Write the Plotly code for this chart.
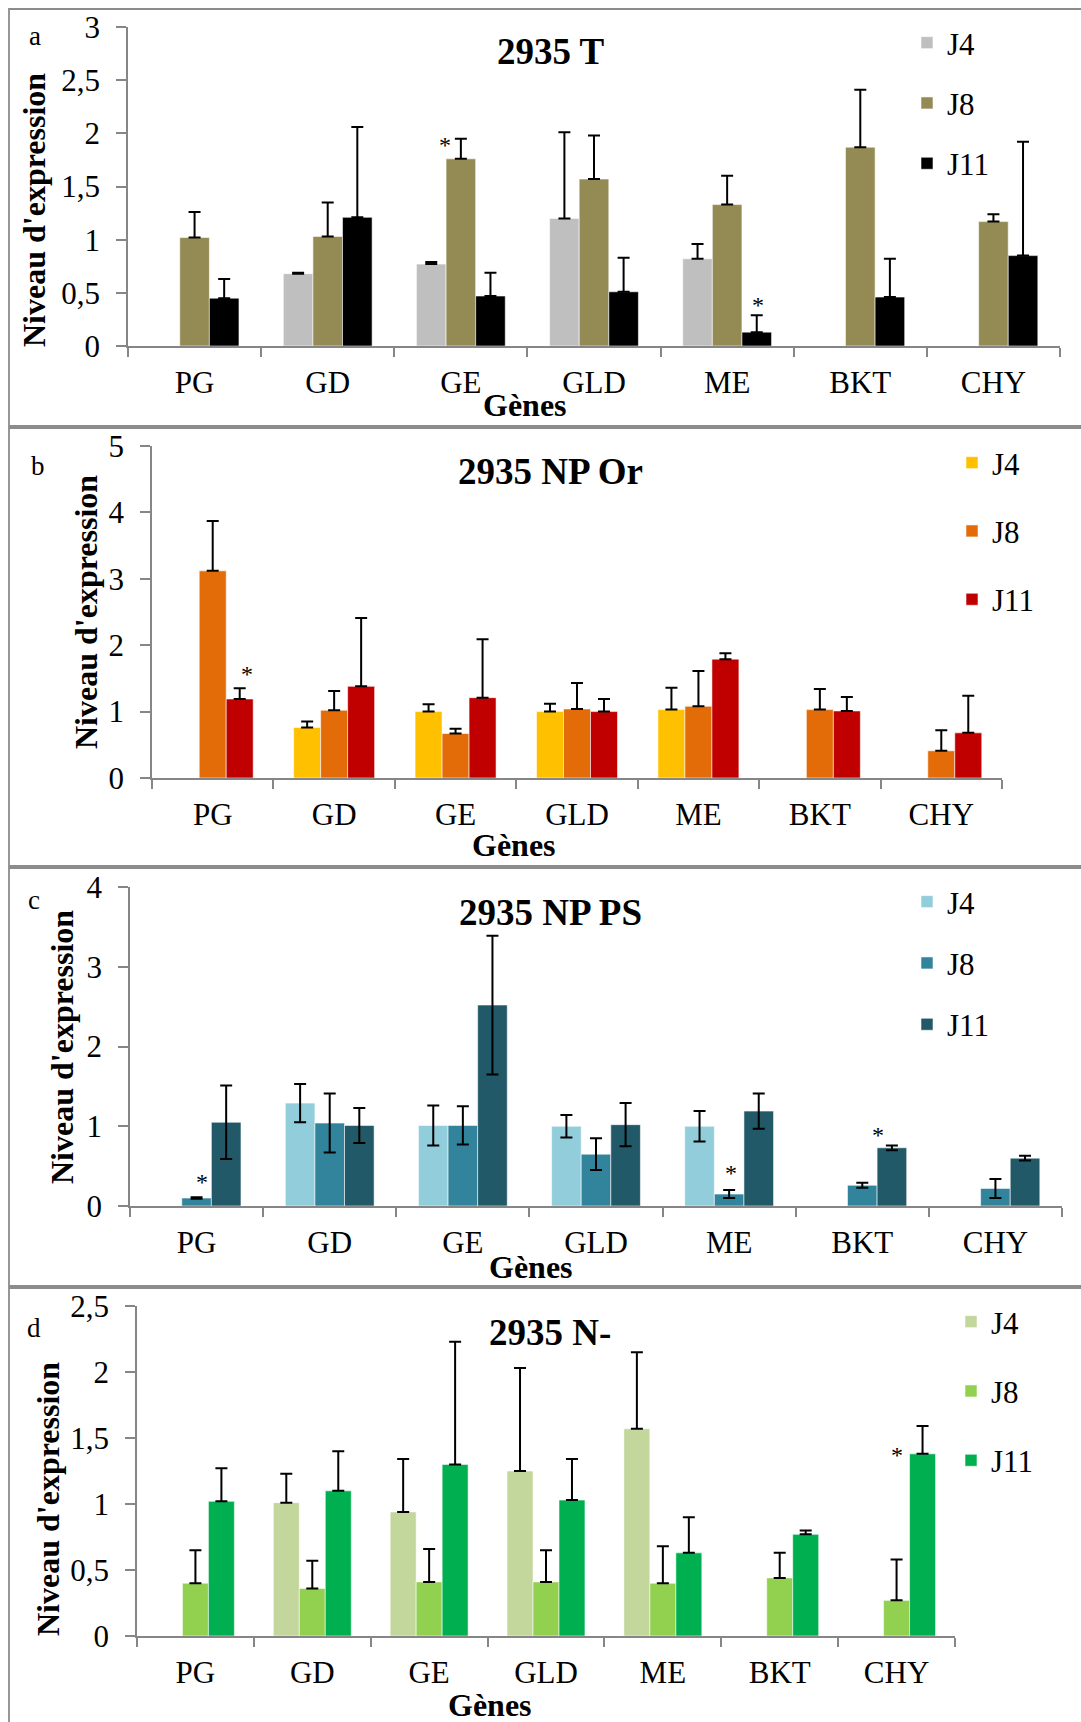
import plotly.graph_objects as go

# ---------------- DATA ----------------
genes = ["PG", "GD", "GE", "GLD", "ME", "BKT", "CHY"]
series = ["J4", "J8", "J11"]

# Panel a : 2935 T
a_J4 = [None, 0.68, 0.77, 1.20, 0.82, None, None]
a_J4_err = [0, 0.01, 0.02, 0.81, 0.14, 0, 0]
a_J8 = [1.02, 1.03, 1.76, 1.57, 1.33, 1.87, 1.17]
a_J8_err = [0.24, 0.32, 0.19, 0.41, 0.27, 0.54, 0.07]
a_J11 = [0.45, 1.21, 0.47, 0.51, 0.13, 0.46, 0.85]
a_J11_err = [0.18, 0.85, 0.22, 0.32, 0.16, 0.36, 1.07]
a_stars = [("GE", "J8"), ("ME", "J11")]

# Panel b : 2935 NP Or
b_J4 = [None, 0.76, 1.00, 1.00, 1.03, None, None]
b_J4_err = [0, 0.09, 0.11, 0.12, 0.33, 0, 0]
b_J8 = [3.12, 1.02, 0.67, 1.04, 1.08, 1.03, 0.41]
b_J8_err = [0.75, 0.29, 0.07, 0.39, 0.53, 0.31, 0.31]
b_J11 = [1.19, 1.38, 1.21, 1.00, 1.79, 1.01, 0.68]
b_J11_err = [0.16, 1.03, 0.88, 0.19, 0.09, 0.21, 0.56]
b_stars = [("PG", "J11")]

# Panel c : 2935 NP PS (symmetric error bars)
c_J4 = [None, 1.29, 1.01, 1.00, 1.00, None, None]
c_J4_err = [0, 0.24, 0.25, 0.14, 0.19, 0, 0]
c_J8 = [0.10, 1.04, 1.01, 0.65, 0.15, 0.26, 0.22]
c_J8_err = [0.01, 0.37, 0.24, 0.20, 0.05, 0.03, 0.12]
c_J11 = [1.05, 1.01, 2.52, 1.02, 1.19, 0.73, 0.60]
c_J11_err = [0.46, 0.22, 0.87, 0.27, 0.22, 0.03, 0.03]
c_stars = [("PG", "J8"), ("ME", "J8"), ("BKT", "J11")]

# Panel d : 2935 N-
d_J4 = [None, 1.01, 0.94, 1.25, 1.57, None, None]
d_J4_err = [0, 0.22, 0.40, 0.78, 0.58, 0, 0]
d_J8 = [0.40, 0.36, 0.41, 0.41, 0.40, 0.44, 0.27]
d_J8_err = [0.25, 0.21, 0.25, 0.24, 0.28, 0.19, 0.31]
d_J11 = [1.02, 1.10, 1.30, 1.03, 0.63, 0.77, 1.38]
d_J11_err = [0.25, 0.30, 0.93, 0.31, 0.27, 0.03, 0.21]
d_stars = [("CHY", "J11")]

# y tick labels (French decimal comma)
ticks_a_vals = [0, 0.5, 1, 1.5, 2, 2.5, 3]
ticks_a_text = ["0", "0,5", "1", "1,5", "2", "2,5", "3"]
ticks_b_vals = [0, 1, 2, 3, 4, 5]
ticks_b_text = ["0", "1", "2", "3", "4", "5"]
ticks_c_vals = [0, 1, 2, 3, 4]
ticks_c_text = ["0", "1", "2", "3", "4"]
ticks_d_vals = [0, 0.5, 1, 1.5, 2, 2.5]
ticks_d_text = ["0", "0,5", "1", "1,5", "2", "2,5"]

# ---------------- STYLE / LAYOUT ----------------
W, H = 1081, 1722
FONT = "Liberation Serif"
GRAY = "#868686"
BARGAP = 0.333
TICK_SIZE = 31

panels = [
    dict(key="a", title="2935 T", letter="a",
         vals=[a_J4, a_J8, a_J11], errs=[a_J4_err, a_J8_err, a_J11_err], sym=False,
         colors=["#BFBFBF", "#948A54", "#000000"],
         yr=[0, 3], tv=ticks_a_vals, tt=ticks_a_text, stars=a_stars,
         box=(128, 1060, 27, 346), frame=(9, 426),
         letter_xy=(35, 36), title_xy=(551, 52), ytitle_xy=(34, 210), xtitle_xy=(525, 405),
         leg_xy=(907, 16), leg_gap=17,
         star_off={("GE", "J8"): (-16, -4), ("ME", "J11"): (1, 12)}),
    dict(key="b", title="2935 NP Or", letter="b",
         vals=[b_J4, b_J8, b_J11], errs=[b_J4_err, b_J8_err, b_J11_err], sym=False,
         colors=["#FFC000", "#E36C09", "#C00000"],
         yr=[0, 5], tv=ticks_b_vals, tt=ticks_b_text, stars=b_stars,
         box=(152, 1002, 446, 778), frame=(428, 866),
         letter_xy=(38, 466), title_xy=(550, 472), ytitle_xy=(86, 612), xtitle_xy=(514, 845),
         leg_xy=(952, 436), leg_gap=25,
         star_off={("PG", "J11"): (7, 16)}),
    dict(key="c", title="2935 NP PS", letter="c",
         vals=[c_J4, c_J8, c_J11], errs=[c_J4_err, c_J8_err, c_J11_err], sym=True,
         colors=["#92CDDC", "#31849B", "#215968"],
         yr=[0, 4], tv=ticks_c_vals, tt=ticks_c_text, stars=c_stars,
         box=(130, 1062, 887, 1206), frame=(868, 1286),
         letter_xy=(34, 900), title_xy=(550, 912), ytitle_xy=(62, 1047), xtitle_xy=(531, 1267),
         leg_xy=(907, 875), leg_gap=18,
         star_off={("PG", "J8"): (5, 17), ("ME", "J8"): (2, 19), ("BKT", "J11"): (-14, 12)}),
    dict(key="d", title="2935 N-", letter="d",
         vals=[d_J4, d_J8, d_J11], errs=[d_J4_err, d_J8_err, d_J11_err], sym=False,
         colors=["#C3D69B", "#92D050", "#00B050"],
         yr=[0, 2.5], tv=ticks_d_vals, tt=ticks_d_text, stars=d_stars,
         box=(137, 955, 1306, 1636), frame=(1288, 1740),
         letter_xy=(34, 1328), title_xy=(550, 1332), ytitle_xy=(48, 1499), xtitle_xy=(490, 1705),
         leg_xy=(951, 1295), leg_gap=26,
         star_off={("CHY", "J11"): (-26, -27)}),
]


def px_x(x):
    return x / W


def px_y(y):
    return 1 - y / H


fig = go.Figure()
layout = dict(
    width=W, height=H, margin=dict(l=0, r=0, t=0, b=0, pad=0, autoexpand=False),
    paper_bgcolor="white", plot_bgcolor="white",
    barmode="group", bargap=BARGAP, bargroupgap=0,
    font=dict(family=FONT, size=TICK_SIZE, color="black"),
    showlegend=True,
)
annotations = []
shapes = []

for i, p in enumerate(panels):
    n = "" if i == 0 else str(i + 1)
    xa, ya = "x" + n, "y" + n
    leg = "legend" + n
    x0, x1, y0, y1 = p["box"]
    for j, s in enumerate(series):
        err = dict(type="data", array=p["errs"][j], visible=True,
                   color="black", thickness=2, width=6)
        if not p["sym"]:
            err.update(symmetric=False, arrayminus=[0] * len(genes))
        fig.add_trace(go.Bar(
            x=genes, y=p["vals"][j], name=s, xaxis=xa, yaxis=ya,
            marker=dict(color=p["colors"][j], line=dict(color="rgba(255,255,255,0.7)", width=0.8)),
            error_y=err, legend=leg, legendgroup=p["key"] + s,
        ))
    layout["xaxis" + n] = dict(
        domain=[px_x(x0), px_x(x1)], anchor=ya, type="category",
        categoryorder="array", categoryarray=genes, range=[-0.5, 6.5],
        showline=True, linecolor=GRAY, linewidth=1.5, ticks="outside",
        tickson="boundaries", ticklen=9, tickcolor=GRAY, tickwidth=1.5,
        tickfont=dict(family=FONT, size=TICK_SIZE), ticklabelstandoff=8,
        showgrid=False, zeroline=False, fixedrange=True, automargin=False,
    )
    layout["yaxis" + n] = dict(
        domain=[px_y(y1), px_y(y0)], anchor=xa, range=p["yr"],
        tickvals=p["tv"], ticktext=p["tt"],
        showline=True, linecolor=GRAY, linewidth=1.5, ticks="outside",
        ticklen=10, tickcolor=GRAY, tickwidth=1.5,
        tickfont=dict(family=FONT, size=TICK_SIZE), ticklabelstandoff=10,
        showgrid=False, zeroline=False, fixedrange=True, automargin=False,
    )
    lx, ly = p["leg_xy"]
    layout[leg] = dict(
        x=px_x(lx), y=px_y(ly), xanchor="left", yanchor="top",
        font=dict(family=FONT, size=31), tracegroupgap=p["leg_gap"],
        bgcolor="rgba(0,0,0,0)", traceorder="grouped",
    )
    # panel frame
    fy0, fy1 = p["frame"]
    shapes.append(dict(type="rect", xref="paper", yref="paper",
                       x0=px_x(9), x1=px_x(1095), y0=px_y(fy1), y1=px_y(fy0),
                       line=dict(color="#8C8C8C", width=1.8), layer="below"))
    # texts
    tx, ty = p["letter_xy"]
    annotations.append(dict(text=p["letter"], x=px_x(tx), y=px_y(ty), xref="paper", yref="paper",
                            showarrow=False, font=dict(family=FONT, size=27), xanchor="center", yanchor="middle"))
    tx, ty = p["title_xy"]
    annotations.append(dict(text="<b>" + p["title"] + "</b>", x=px_x(tx), y=px_y(ty), xref="paper", yref="paper",
                            showarrow=False, font=dict(family=FONT, size=37), xanchor="center", yanchor="middle"))
    tx, ty = p["ytitle_xy"]
    annotations.append(dict(text="<b>Niveau d'expression</b>", x=px_x(tx), y=px_y(ty), xref="paper", yref="paper",
                            showarrow=False, textangle=-90, font=dict(family=FONT, size=32),
                            xanchor="center", yanchor="middle"))
    tx, ty = p["xtitle_xy"]
    annotations.append(dict(text="<b>Gènes</b>", x=px_x(tx), y=px_y(ty), xref="paper", yref="paper",
                            showarrow=False, font=dict(family=FONT, size=32), xanchor="center", yanchor="middle"))
    # significance asterisks
    cat_px = (x1 - x0) / len(genes)
    bar_px = cat_px * (1 - BARGAP) / len(series)
    for g, s in p["stars"]:
        gi, si = genes.index(g), series.index(s)
        top = p["vals"][si][gi] + p["errs"][si][gi]
        dx, dy = p["star_off"][(g, s)]
        annotations.append(dict(text="*", x=g, y=top, xref=xa, yref=ya, showarrow=False,
                                xshift=(si - 1) * bar_px + dx, yshift=dy - 2,
                                font=dict(family=FONT, size=24), xanchor="center", yanchor="middle"))

layout["annotations"] = annotations
layout["shapes"] = shapes
fig.update_layout(**layout)

fig.write_html("out.html", config={"displayModeBar": False},
               post_script="document.body.style.margin='0';document.body.style.overflow='hidden';")
